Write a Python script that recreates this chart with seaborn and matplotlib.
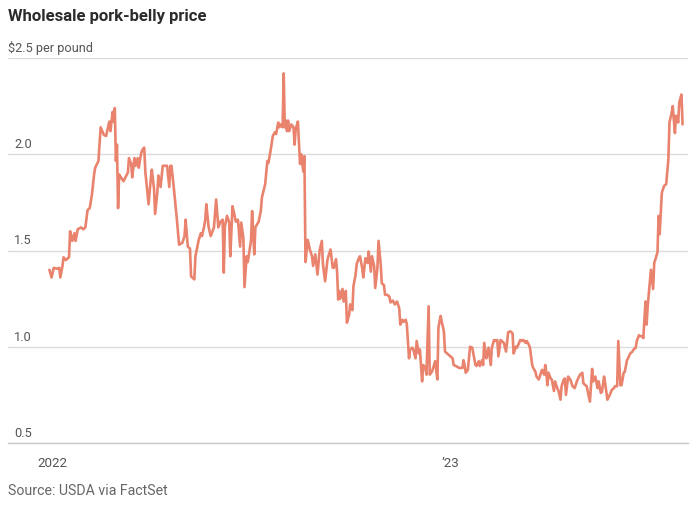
import matplotlib
matplotlib.use("Agg")
import matplotlib.pyplot as plt
import matplotlib.dates as mdates
import matplotlib.transforms as mtransforms
import seaborn as sns
import pandas as pd

# ---------------- data ----------------
dates = [
    "2021-12-29", "2021-12-31", "2022-01-02", "2022-01-05", "2022-01-07", "2022-01-08", "2022-01-10", "2022-01-11",
    "2022-01-13", "2022-01-16", "2022-01-17", "2022-01-19", "2022-01-21", "2022-01-22", "2022-01-24", "2022-01-27",
    "2022-01-29", "2022-01-31", "2022-02-02", "2022-02-04", "2022-02-06", "2022-02-08", "2022-02-09", "2022-02-12",
    "2022-02-14", "2022-02-17", "2022-02-19", "2022-02-22", "2022-02-23", "2022-02-25", "2022-02-26", "2022-02-27",
    "2022-02-28", "2022-03-01", "2022-03-02", "2022-03-03", "2022-03-04", "2022-03-07", "2022-03-11", "2022-03-12",
    "2022-03-14", "2022-03-15", "2022-03-17", "2022-03-18", "2022-03-20", "2022-03-21", "2022-03-23", "2022-03-24",
    "2022-03-26", "2022-03-27",
    "2022-03-30", "2022-04-01", "2022-04-02", "2022-04-04", "2022-04-05", "2022-04-07", "2022-04-08", "2022-04-10",
    "2022-04-12", "2022-04-15", "2022-04-16", "2022-04-18", "2022-04-19", "2022-04-20", "2022-04-22", "2022-04-25",
    "2022-04-27", "2022-04-30", "2022-05-02", "2022-05-03", "2022-05-05", "2022-05-07", "2022-05-08", "2022-05-11",
    "2022-05-12", "2022-05-15", "2022-05-17", "2022-05-18", "2022-05-20", "2022-05-21", "2022-05-22", "2022-05-24",
    "2022-05-26", "2022-05-29", "2022-05-31", "2022-06-02", "2022-06-04", "2022-06-06", "2022-06-07", "2022-06-08",
    "2022-06-10", "2022-06-12", "2022-06-13", "2022-06-15",
    "2022-06-17", "2022-06-18", "2022-06-20", "2022-06-22", "2022-06-23", "2022-06-25", "2022-06-26", "2022-06-28",
    "2022-06-29", "2022-07-02", "2022-07-03", "2022-07-05", "2022-07-06", "2022-07-09", "2022-07-11", "2022-07-12",
    "2022-07-15", "2022-07-17", "2022-07-18", "2022-07-20", "2022-07-22", "2022-07-24", "2022-07-25", "2022-07-27",
    "2022-07-28", "2022-07-29", "2022-07-31", "2022-08-01", "2022-08-02", "2022-08-03", "2022-08-04", "2022-08-05",
    "2022-08-06", "2022-08-08", "2022-08-10", "2022-08-11", "2022-08-12", "2022-08-14", "2022-08-16", "2022-08-17",
    "2022-08-19", "2022-08-20", "2022-08-21", "2022-08-23", "2022-08-25", "2022-08-27", "2022-08-28", "2022-08-30",
    "2022-09-01", "2022-09-03", "2022-09-05", "2022-09-06", "2022-09-08",
    "2022-09-10", "2022-09-11", "2022-09-13", "2022-09-15", "2022-09-16", "2022-09-18", "2022-09-19", "2022-09-20",
    "2022-09-21", "2022-09-22", "2022-09-24", "2022-09-25", "2022-09-27", "2022-09-28", "2022-09-30", "2022-10-01",
    "2022-10-03", "2022-10-04", "2022-10-06", "2022-10-07", "2022-10-09", "2022-10-10", "2022-10-12", "2022-10-13",
    "2022-10-15", "2022-10-17", "2022-10-18", "2022-10-20", "2022-10-21", "2022-10-23", "2022-10-24", "2022-10-26",
    "2022-10-27", "2022-10-29", "2022-10-30", "2022-11-01", "2022-11-02", "2022-11-04", "2022-11-06", "2022-11-07",
    "2022-11-09", "2022-11-11", "2022-11-13", "2022-11-15", "2022-11-16", "2022-11-18", "2022-11-19", "2022-11-21",
    "2022-11-22", "2022-11-24", "2022-11-25", "2022-11-27", "2022-11-28", "2022-11-30",
    "2022-12-01", "2022-12-03", "2022-12-04", "2022-12-06", "2022-12-07", "2022-12-09", "2022-12-10", "2022-12-12",
    "2022-12-13", "2022-12-15", "2022-12-17", "2022-12-18", "2022-12-20", "2022-12-21", "2022-12-23", "2022-12-24",
    "2022-12-26", "2022-12-27", "2022-12-29", "2022-12-30", "2023-01-01", "2023-01-03", "2023-01-04", "2023-01-06",
    "2023-01-09", "2023-01-12", "2023-01-13", "2023-01-14", "2023-01-15", "2023-01-17", "2023-01-19", "2023-01-21",
    "2023-01-22", "2023-01-24", "2023-01-25", "2023-01-27", "2023-01-28", "2023-01-30", "2023-01-31", "2023-02-01",
    "2023-02-03", "2023-02-04", "2023-02-05", "2023-02-07", "2023-02-08", "2023-02-10", "2023-02-11", "2023-02-13",
    "2023-02-14", "2023-02-16", "2023-02-17", "2023-02-19", "2023-02-21",
    "2023-02-23", "2023-02-25", "2023-02-27", "2023-02-28", "2023-03-02", "2023-03-03", "2023-03-05", "2023-03-06",
    "2023-03-08", "2023-03-09", "2023-03-11", "2023-03-12", "2023-03-14", "2023-03-15", "2023-03-17", "2023-03-18",
    "2023-03-20", "2023-03-21", "2023-03-23", "2023-03-24", "2023-03-26", "2023-03-28", "2023-03-29", "2023-03-30",
    "2023-03-31", "2023-04-01", "2023-04-03", "2023-04-04", "2023-04-06", "2023-04-07", "2023-04-09", "2023-04-10",
    "2023-04-12", "2023-04-13", "2023-04-15", "2023-04-16", "2023-04-17", "2023-04-19", "2023-04-21", "2023-04-23",
    "2023-04-25", "2023-04-27", "2023-04-29", "2023-04-30", "2023-05-02", "2023-05-03", "2023-05-05", "2023-05-06",
    "2023-05-09", "2023-05-11", "2023-05-12", "2023-05-14",
    "2023-05-16", "2023-05-17", "2023-05-19", "2023-05-20", "2023-05-22", "2023-05-23", "2023-05-25", "2023-05-26",
    "2023-05-28", "2023-05-29", "2023-05-31", "2023-06-01", "2023-06-03", "2023-06-04", "2023-06-06", "2023-06-07",
    "2023-06-09", "2023-06-10", "2023-06-12", "2023-06-13", "2023-06-15", "2023-06-17", "2023-06-18", "2023-06-20",
    "2023-06-21", "2023-06-23", "2023-06-24", "2023-06-26", "2023-06-27", "2023-06-29", "2023-06-30", "2023-07-01",
    "2023-07-03", "2023-07-04", "2023-07-06", "2023-07-07", "2023-07-10", "2023-07-11", "2023-07-12", "2023-07-14",
    "2023-07-16", "2023-07-18", "2023-07-20", "2023-07-21", "2023-07-23", "2023-07-24", "2023-07-26", "2023-07-27",
    "2023-07-29", "2023-07-30", "2023-08-01", "2023-08-02",
]

prices = [
    1.40, 1.36, 1.41, 1.405, 1.41, 1.36, 1.42, 1.465,
    1.45, 1.465, 1.60, 1.55, 1.59, 1.55, 1.61, 1.62,
    1.61, 1.62, 1.71, 1.72, 1.79, 1.895, 1.93, 1.965,
    2.14, 2.10, 2.095, 2.17, 2.12, 2.22, 2.17, 2.24,
    1.965, 2.05, 1.72, 1.895, 1.885, 1.86, 1.905, 1.98,
    1.95, 1.88, 1.98, 1.94, 1.98, 1.93, 2.00, 2.02,
    2.035, 1.91,
    1.74, 1.87, 1.92, 1.82, 1.69, 1.80, 1.89, 1.83,
    1.94, 1.94, 1.94, 1.83, 1.94, 1.94, 1.835, 1.66,
    1.53, 1.54, 1.575, 1.66, 1.52, 1.51, 1.365, 1.35,
    1.47, 1.555, 1.59, 1.575, 1.625, 1.66, 1.74, 1.625,
    1.575, 1.62, 1.765, 1.62, 1.65, 1.66, 1.385, 1.625,
    1.68, 1.645, 1.47, 1.73,
    1.68, 1.65, 1.66, 1.52, 1.645, 1.565, 1.31, 1.47,
    1.44, 1.55, 1.705, 1.48, 1.62, 1.65, 1.705, 1.775,
    1.845, 1.965, 1.955, 2.02, 2.095, 2.115, 2.105, 2.165,
    2.14, 2.155, 2.14, 2.42, 2.14, 2.175, 2.12, 2.175,
    2.12, 2.155, 2.14, 2.05, 2.13, 2.17, 1.95, 2.00,
    1.91, 1.99, 1.44, 1.555, 1.505, 1.47, 1.42, 1.48,
    1.375, 1.50, 1.55, 1.43, 1.34,
    1.445, 1.47, 1.505, 1.41, 1.41, 1.455, 1.39, 1.245,
    1.29, 1.25, 1.30, 1.235, 1.29, 1.125, 1.165, 1.22,
    1.19, 1.315, 1.375, 1.43, 1.46, 1.47, 1.41, 1.36,
    1.46, 1.435, 1.495, 1.39, 1.47, 1.42, 1.305, 1.41,
    1.55, 1.43, 1.33, 1.32, 1.27, 1.27, 1.26, 1.23,
    1.24, 1.22, 1.235, 1.20, 1.115, 1.14, 1.13, 1.14,
    1.115, 0.94, 0.985, 0.995, 0.985, 0.94,
    1.03, 0.965, 0.985, 0.82, 0.905, 0.89, 0.855, 1.21,
    0.855, 0.87, 0.905, 0.925, 0.83, 1.10, 1.16, 1.13,
    1.08, 0.975, 0.965, 0.96, 0.95, 0.94, 0.905, 0.90,
    0.89, 0.89, 0.93, 0.905, 0.865, 0.88, 1.00, 0.995,
    0.965, 0.905, 0.90, 0.925, 0.90, 0.93, 0.905, 1.02,
    0.94, 0.965, 0.995, 0.905, 0.995, 1.035, 1.03, 1.035,
    0.95, 1.035, 1.03, 1.02, 0.975,
    1.075, 1.08, 1.07, 0.965, 1.00, 0.995, 1.02, 1.035,
    1.03, 1.035, 1.02, 1.03, 1.01, 0.995, 0.905, 0.89,
    0.87, 0.845, 0.83, 0.845, 0.88, 0.855, 0.905, 0.865,
    0.80, 0.865, 0.835, 0.83, 0.77, 0.82, 0.785, 0.775,
    0.725, 0.795, 0.83, 0.835, 0.75, 0.845, 0.83, 0.795,
    0.785, 0.82, 0.845, 0.855, 0.865, 0.81, 0.80, 0.795,
    0.715, 0.885, 0.82, 0.845,
    0.785, 0.82, 0.76, 0.765, 0.845, 0.81, 0.725, 0.735,
    0.76, 0.775, 0.785, 0.795, 0.795, 1.03, 0.80, 0.80,
    0.865, 0.87, 0.93, 0.94, 0.965, 0.975, 0.985, 0.995,
    1.03, 1.06, 1.055, 1.055, 1.045, 1.235, 1.115, 1.21,
    1.34, 1.40, 1.30, 1.435, 1.49, 1.68, 1.585, 1.80,
    1.835, 1.845, 1.975, 2.165, 2.215, 2.25, 2.11, 2.20,
    2.165, 2.27, 2.31, 2.155,
]

y_ticks = [0.5, 1.0, 1.5, 2.0, 2.5]
y_tick_labels = ["0.5", "1.0", "1.5", "2.0", "$2.5 per pound"]
x_major = ["2022-01-01", "2023-01-01"]
x_major_labels = ["2022", "\u201923"]

title = "Wholesale pork-belly price"
source = "Source: USDA via FactSet"

# ---------------- style ----------------
sns.set_theme(style="white")
plt.rcParams["font.family"] = ["Roboto", "DejaVu Sans"]

line_color = "#E9836D"
grid_color = "#DCDCDC"
text_color = "#555555"

df = pd.DataFrame({"date": pd.to_datetime(dates), "price": prices})

W, H = 691, 518
fig = plt.figure(figsize=(W / 100, H / 100), dpi=100)
ax_left, ax_right = 8, 688
ax_top, ax_bottom = 58, 443
ax = fig.add_axes([ax_left / W, 1 - ax_bottom / H, (ax_right - ax_left) / W, (ax_bottom - ax_top) / H])

sns.lineplot(data=df, x="date", y="price", ax=ax, color=line_color, linewidth=1.9)

ax.set_xlim(pd.Timestamp("2021-11-21"), pd.Timestamp("2023-08-07"))
ax.set_ylim(0.5, 2.5)
ax.set_xlabel("")
ax.set_ylabel("")

for s in ["left", "right", "top"]:
    ax.spines[s].set_visible(False)
ax.spines["bottom"].set_color("#C8C8C8")
ax.spines["bottom"].set_linewidth(1.0)

# y grid + labels sitting above gridlines
ax.set_yticks(y_ticks)
ax.set_yticklabels([])
ax.tick_params(axis="y", length=0)
ax.yaxis.grid(True, color=grid_color, linewidth=1.0)
ax.set_axisbelow(True)

trans = mtransforms.blended_transform_factory(fig.transFigure, ax.transData)
offset = mtransforms.ScaledTranslation(0, 3 / 100, fig.dpi_scale_trans)
for v, lab in zip(y_ticks, y_tick_labels):
    xpix = 8 if lab.startswith("$") else 14
    ax.text(xpix / W, v, lab, transform=trans + offset, ha="left", va="bottom",
            fontsize=9.2, color=text_color)

# x ticks
ax.set_xticks(pd.to_datetime(x_major))
ax.set_xticklabels(x_major_labels)
ax.xaxis.set_minor_locator(mdates.MonthLocator())
ax.tick_params(axis="x", which="major", length=5, width=1, color="#444444",
               direction="out", pad=5, labelsize=9.6, labelcolor=text_color)
ax.tick_params(axis="x", which="minor", length=2.5, width=1, color="#444444", direction="out")
ax.xaxis.grid(False)

fig.text(8 / W, 1 - 16 / H, title, ha="left", va="center", fontsize=12,
         fontweight="bold", color="#2B2B2B")
fig.text(8 / W, 1 - 491 / H, source, ha="left", va="center", fontsize=10.2,
         color="#666666")

fig.savefig("out.png", dpi=100, facecolor="white")
